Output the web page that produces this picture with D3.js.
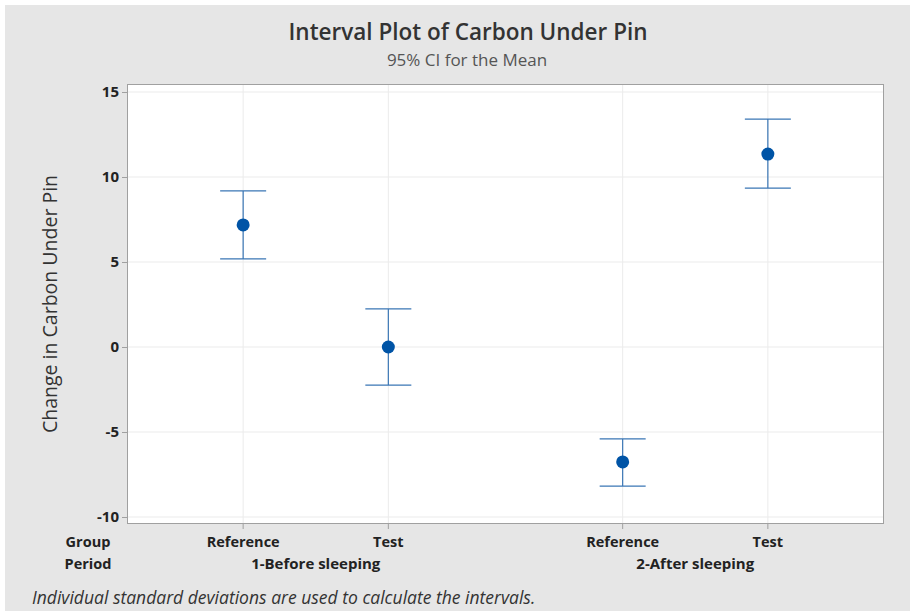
<!DOCTYPE html>
<html>
<head>
<meta charset="utf-8">
<script src="https://cdn.jsdelivr.net/npm/d3@7"></script>
<style>
  body { margin: 0; background: #fff; }
  text { font-family: "Open Sans", "Noto Sans", sans-serif; }
</style>
</head>
<body>
<div id="chart"></div>
<script>
// data
var groups = ["Reference", "Test", "Reference", "Test"];
var periods = ["1-Before sleeping", "1-Before sleeping", "2-After sleeping", "2-After sleeping"];
var means = [7.18, 0.0, -6.76, 11.35];
var upper = [9.18, 2.24, -5.41, 13.41];
var lower = [5.18, -2.24, -8.18, 9.35];
var yTicks = [-10, -5, 0, 5, 10, 15];

var width = 914, height = 613;
var plot = { left: 127, right: 884, top: 84, bottom: 524 };
var periodGap = 0.614;

var svg = d3.select("#chart").append("svg")
  .attr("width", width)
  .attr("height", height);

// grey panel
svg.append("rect")
  .attr("x", 5).attr("y", 5)
  .attr("width", 905).attr("height", 606)
  .attr("fill", "#e6e6e6");

var periodList = [];
periods.forEach(function (p) { if (periodList.indexOf(p) < 0) periodList.push(p); });

// position of each point: index plus extra gap between periods
var pos = groups.map(function (g, i) {
  return i + periodList.indexOf(periods[i]) * periodGap;
});

var x = d3.scaleLinear()
  .domain([-0.8, pos[pos.length - 1] + 0.8])
  .range([plot.left, plot.right]);

var y = d3.scaleLinear()
  .domain([-10 - 7 / 17, 15 + 8 / 17])
  .range([plot.bottom, plot.top]);

svg.append("rect")
  .attr("x", plot.left).attr("y", plot.top)
  .attr("width", plot.right - plot.left)
  .attr("height", plot.bottom - plot.top)
  .attr("fill", "#fff");

// grid lines
svg.append("g").selectAll("line")
  .data(yTicks)
  .enter().append("line")
  .attr("x1", plot.left).attr("x2", plot.right)
  .attr("y1", function (d) { return y(d); })
  .attr("y2", function (d) { return y(d); })
  .attr("stroke", "#ebebeb").attr("stroke-width", 1);

svg.append("g").selectAll("line")
  .data(pos)
  .enter().append("line")
  .attr("y1", plot.top).attr("y2", plot.bottom)
  .attr("x1", function (d) { return x(d); })
  .attr("x2", function (d) { return x(d); })
  .attr("stroke", "#ebebeb").attr("stroke-width", 1);

svg.append("rect")
  .attr("x", plot.left + 0.5).attr("y", plot.top + 0.5)
  .attr("width", plot.right - plot.left - 1)
  .attr("height", plot.bottom - plot.top - 1)
  .attr("fill", "none")
  .attr("stroke", "#a0a0a0");

// y axis
var yAxis = svg.append("g")
  .attr("transform", "translate(" + plot.left + ",0)")
  .call(d3.axisLeft(y).tickValues(yTicks).tickSize(5).tickPadding(3)
    .tickFormat(function (d) { return String(d); }));
yAxis.select(".domain").remove();
yAxis.selectAll(".tick line").attr("stroke", "#a0a0a0");
yAxis.selectAll(".tick text")
  .attr("fill", "#222")
  .style("font-size", "15px")
  .style("font-weight", "bold")
  .style("font-family", "'Open Sans', sans-serif");

// x ticks (down from plot bottom)
svg.append("g").selectAll("line")
  .data(pos)
  .enter().append("line")
  .attr("x1", function (d) { return x(d); })
  .attr("x2", function (d) { return x(d); })
  .attr("y1", plot.bottom).attr("y2", plot.bottom + 5)
  .attr("stroke", "#a0a0a0");

// error bars
var capHalf = 23;
var bars = svg.append("g");
bars.selectAll(".stem")
  .data(pos)
  .enter().append("line")
  .attr("class", "stem")
  .attr("x1", function (d) { return x(d); })
  .attr("x2", function (d) { return x(d); })
  .attr("y1", function (d, i) { return y(upper[i]); })
  .attr("y2", function (d, i) { return y(lower[i]); })
  .attr("stroke", "#3a76b5").attr("stroke-width", 1.2);

[upper, lower].forEach(function (arr) {
  bars.append("g").selectAll("line")
    .data(pos)
    .enter().append("line")
    .attr("x1", function (d) { return x(d) - capHalf; })
    .attr("x2", function (d) { return x(d) + capHalf; })
    .attr("y1", function (d, i) { return y(arr[i]); })
    .attr("y2", function (d, i) { return y(arr[i]); })
    .attr("stroke", "#3a76b5").attr("stroke-width", 1.2);
});

bars.selectAll("circle")
  .data(pos)
  .enter().append("circle")
  .attr("cx", function (d) { return x(d); })
  .attr("cy", function (d, i) { return y(means[i]); })
  .attr("r", 6.5)
  .attr("fill", "#0054a6");

// group / period labels
var labelSize = "14.5px";
svg.append("text")
  .attr("x", 88).attr("y", 547)
  .attr("text-anchor", "middle")
  .style("font-size", labelSize).style("font-weight", "bold").attr("fill", "#222")
  .text("Group");
svg.append("text")
  .attr("x", 88).attr("y", 569)
  .attr("text-anchor", "middle")
  .style("font-size", labelSize).style("font-weight", "bold").attr("fill", "#222")
  .text("Period");

svg.append("g").selectAll("text")
  .data(groups)
  .enter().append("text")
  .attr("x", function (d, i) { return x(pos[i]); })
  .attr("y", 547)
  .attr("text-anchor", "middle")
  .style("font-size", labelSize).style("font-weight", "bold").attr("fill", "#222")
  .text(function (d) { return d; });

svg.append("g").selectAll("text")
  .data(periodList)
  .enter().append("text")
  .attr("x", function (p) {
    var ps = pos.filter(function (d, i) { return periods[i] === p; });
    return x(d3.mean(ps));
  })
  .attr("y", 569)
  .attr("text-anchor", "middle")
  .style("font-size", "15px").style("font-weight", "bold").attr("fill", "#222")
  .text(function (d) { return d; });

// titles
svg.append("text")
  .attr("x", 468).attr("y", 40)
  .attr("text-anchor", "middle")
  .style("font-size", "22.5px").style("font-weight", "600").attr("fill", "#333")
  .text("Interval Plot of Carbon Under Pin");
svg.append("text")
  .attr("x", 467).attr("y", 66)
  .attr("text-anchor", "middle")
  .style("font-size", "17px").attr("fill", "#555")
  .text("95% CI for the Mean");

svg.append("text")
  .attr("transform", "translate(57," + ((plot.top + plot.bottom) / 2) + ") rotate(-90)")
  .attr("text-anchor", "middle")
  .style("font-size", "19.5px").attr("fill", "#333")
  .text("Change in Carbon Under Pin");

svg.append("text")
  .attr("x", 32).attr("y", 604)
  .style("font-size", "17.5px").style("font-style", "italic").attr("fill", "#333")
  .text("Individual standard deviations are used to calculate the intervals.");
</script>
</body>
</html>
